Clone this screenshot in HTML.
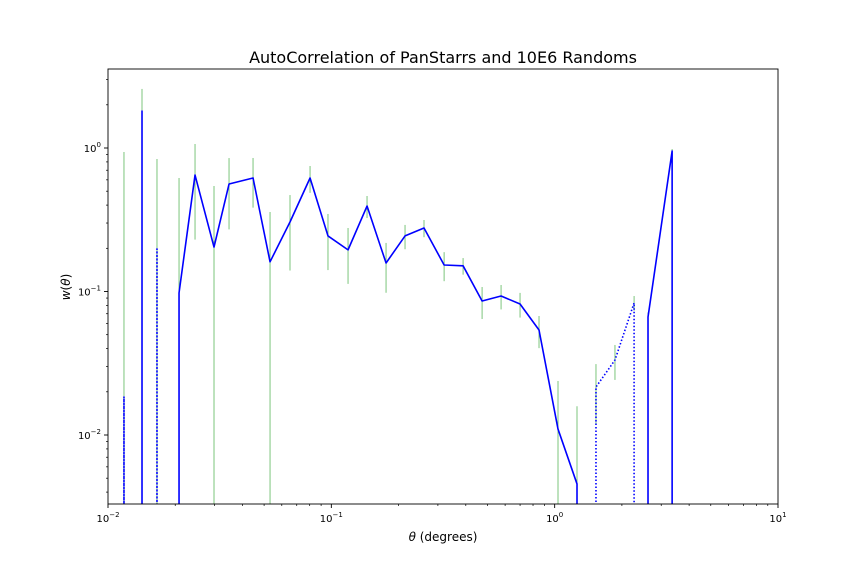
<!DOCTYPE html>
<html><head><meta charset="utf-8">
<style>
html,body{margin:0;padding:0;background:#fff;}
svg{display:block;font-family:"DejaVu Sans","Liberation Sans",sans-serif;}
</style></head>
<body>
<svg id="chart" width="864" height="576" viewBox="0 0 864 576" xmlns="http://www.w3.org/2000/svg">
<rect width="864" height="576" fill="#fff"/>
<text x="443" y="63" text-anchor="middle" font-size="16">AutoCorrelation of PanStarrs and 10E6 Randoms</text>
<text x="443" y="541" text-anchor="middle" font-size="12"><tspan font-style="italic">θ</tspan> (degrees)</text>
<text transform="translate(70,287) rotate(-90)" text-anchor="middle" font-size="12"><tspan font-style="italic">w</tspan>(<tspan font-style="italic">θ</tspan>)</text>
<g id="plot"></g>
</svg>
<script>
const thetas=[0.01179,0.01420,0.01657,0.0208,0.02453,0.02983,0.03483,0.04461,0.05316,0.0653,0.0803,0.0966,0.1188,0.1445,0.1758,0.2138,0.2600,0.3199,0.3890,0.4732,0.5755,0.6998,0.851,1.035,1.259,1.531,1.862,2.268,2.618,3.357,4.08,4.96];
const wvals=[-0.0184,1.81,-0.198,0.0977,0.648,0.204,0.561,0.618,0.161,0.305,0.618,0.244,0.195,0.394,0.158,0.244,0.277,0.153,0.151,0.0859,0.0930,0.0818,0.0539,0.0110,0.00456,-0.0216,-0.0333,-0.0832,0.0664,0.953,0,0];
const errs=[0.92,0.77,0.64,0.52,0.418,0.34,0.29,0.234,0.197,0.165,0.131,0.103,0.082,0.069,0.06,0.047,0.038,0.035,0.020,0.0216,0.018,0.016,0.0136,0.0128,0.0113,0.0096,0.0091,0.0098,0.005,0.03,0,0];
const xTicks=[-2,-1,0,1];
const yTicks=[-2,-1,0];

const L=108,R=778,T=69,B=504;
const xmin=-2,xmax=1;
const y0px=148,ydec=143.5;
function X(v){return L+(Math.log10(v)-xmin)/(xmax-xmin)*(R-L);}
function Y(v){return y0px-Math.log10(v)*ydec;}
const NS="http://www.w3.org/2000/svg";
const g=document.getElementById('plot');
function mk(tag,attrs,parent){const e=document.createElementNS(NS,tag);for(const k in attrs)e.setAttribute(k,attrs[k]);(parent||g).appendChild(e);return e;}
function clampY(y){return Math.max(T,Math.min(B,y));}

const clip=mk('clipPath',{id:'pc'});mk('rect',{x:L,y:T,width:R-L,height:B-T},clip);
const data=mk('g',{'clip-path':'url(#pc)'});

// error bars
for(let i=0;i<thetas.length;i++){
  const v=Math.abs(wvals[i]),e=errs[i];
  if(v===0)continue;
  const x=X(thetas[i]);
  const top=Y(v+e);const bot=(v-e)>0?Y(v-e):B+5;
  const ln=mk('line',{x1:x,x2:x,y1:clampY(top),y2:Math.min(bot,B+5),stroke:'#7cc57c','stroke-width':1},data);
  
  
}
// series
function series(sign,dash,name){
  let d='';
  const n=thetas.length;
  for(let i=0;i<n;i++){
    const v=sign*wvals[i];
    if(!(v>0))continue;
    const x=X(thetas[i]),y=Y(v);
    const prevPos=i>0&&sign*wvals[i-1]>0;
    const nextPos=i<n-1&&sign*wvals[i+1]>0;
    if(!prevPos){d+=`M${x} ${B+5}L${x} ${y}`;} else {d+=`L${x} ${y}`;}
    if(!nextPos){d+=`L${x} ${B+5}`;}
  }
  const p=mk('path',{d:d,fill:'none',stroke:'#0000ff','stroke-width':1.6,'stroke-linejoin':'round'},data);
  if(dash)p.setAttribute('stroke-dasharray',dash);
  
  
}
series(1,null,'positive-w-line');
series(-1,'1.5,2','negative-w-line');

// axes frame
const fr=mk('rect',{x:L,y:T,width:R-L,height:B-T,fill:'none',stroke:'#000','stroke-width':0.9});



// x ticks
for(const t of xTicks){
  const x=L+(t-xmin)/(xmax-xmin)*(R-L);
  mk('line',{x1:x,x2:x,y1:B,y2:B+4,stroke:'#000','stroke-width':0.9});
  const tx=mk('text',{x:x,y:B+18,'text-anchor':'middle','font-size':10});
  
  
  tx.innerHTML=`10<tspan dy="-5" font-size="7">${t<0?'−'+(-t):t}</tspan>`;
  if(t<xmax){for(let m=2;m<=9;m++){const xm=L+(t+Math.log10(m)-xmin)/(xmax-xmin)*(R-L);mk('line',{x1:xm,x2:xm,y1:B,y2:B+2,stroke:'#000','stroke-width':0.7});}}
}
// y ticks
for(const t of yTicks){
  const y=y0px-t*ydec;
  mk('line',{x1:L-4,x2:L,y1:y,y2:y,stroke:'#000','stroke-width':0.9});
  const ty=mk('text',{x:L-7,y:y+4,'text-anchor':'end','font-size':10});
  
  
  ty.innerHTML=`10<tspan dy="-5" font-size="7">${t<0?'−'+(-t):t}</tspan>`;
}
for(let t=-3;t<=0;t++){for(let m=2;m<=9;m++){const y=y0px-(t+Math.log10(m))*ydec;if(y>=T&&y<=B)mk('line',{x1:L-2,x2:L,y1:y,y2:y,stroke:'#000','stroke-width':0.7});}}
</script>
</body></html>
